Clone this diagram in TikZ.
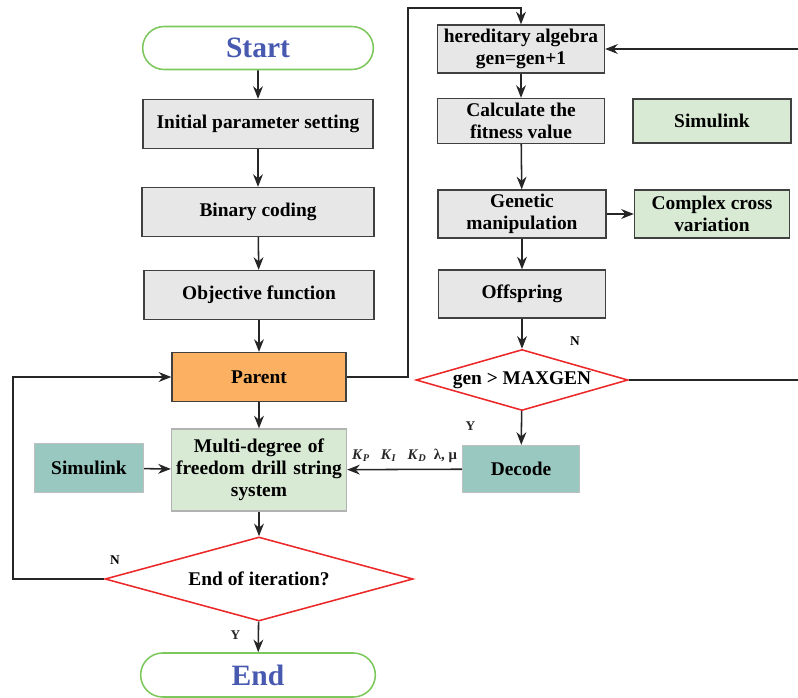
\documentclass[tikz,border=0pt]{standalone}
\usepackage{fontspec}
\setmainfont{Liberation Serif}
\usepackage{xcolor}
\usepackage{tikz}
\usetikzlibrary{arrows.meta,shapes,positioning,calc}

\definecolor{boxgray}{RGB}{231,231,231}
\definecolor{parentorange}{RGB}{251,176,98}
\definecolor{sysgreen}{RGB}{216,233,212}
\definecolor{tealbox}{RGB}{152,200,191}
\definecolor{termgreen}{RGB}{124,200,92}
\definecolor{termblue}{RGB}{72,90,176}
\definecolor{diared}{RGB}{236,40,40}

\begin{document}
\begin{tikzpicture}[x=0.025cm,y=-0.025cm,
  base/.style={draw=black!75,line width=0.9pt,font=\bfseries\fontsize{13.8}{15.5}\selectfont,align=center,inner sep=1pt},
  graybox/.style={base,rectangle,fill=boxgray},
  terminal/.style={rounded rectangle,draw=termgreen,line width=1.1pt,text=termblue,font=\bfseries\fontsize{21}{24}\selectfont},
  decision/.style={diamond,draw=diared,line width=1.1pt,fill=white,inner sep=0pt,font=\bfseries\fontsize{13.8}{15.5}\selectfont},
  arr/.style={-{Stealth[length=9pt,width=7pt]},line width=1.1pt,black!85},
  yn/.style={font=\bfseries\fontsize{9.5}{10}\selectfont}]
\useasboundingbox (0,0) rectangle (798,698);

% Left column
\node[terminal,minimum width=6cm,minimum height=1.075cm] (start) at (258,48) {Start};
\node[graybox,minimum width=5.75cm,minimum height=1.225cm] (init) at (258,124) {Initial parameter setting};
\node[graybox,minimum width=5.8cm,minimum height=1.225cm] (binary) at (258,212) {Binary coding};
\node[graybox,minimum width=5.75cm,minimum height=1.225cm] (objective) at (259,295) {Objective function};
\node[base,fill=parentorange,minimum width=4.35cm,minimum height=1.225cm] (parent) at (259,377) {Parent};
\node[base,draw=black!30,fill=sysgreen,minimum width=4.375cm,minimum height=2.05cm,text width=4.3cm] (drill) at (259,470) {Multi-degree of\\ freedom drill string\\ system};
\node[base,draw=black!25,fill=tealbox,minimum width=2.725cm,minimum height=1.225cm] (simleft) at (89,468) {Simulink};
\node[decision,aspect=3.67,minimum width=7.7cm,minimum height=2.1cm] (enditer) at (259,579) {End of iteration?};
\node[terminal,minimum width=6.1cm,minimum height=1.1cm] (finish) at (258,675) {End};

% Right column
\node[graybox,minimum width=4.175cm,minimum height=1.2cm] (hered) at (521,49) {hereditary algebra\\ gen=gen+1};
\node[graybox,minimum width=4.175cm,minimum height=1.125cm] (fitness) at (521,121) {Calculate the\\ fitness value};
\node[base,fill=sysgreen,minimum width=3.95cm,minimum height=1.1cm] (simright) at (712,121) {Simulink};
\node[graybox,minimum width=4.2cm,minimum height=1.2cm] (genetic) at (522,214) {Genetic\\ manipulation};
\node[base,fill=sysgreen,minimum width=3.875cm,minimum height=1.2cm] (cross) at (712,214) {Complex cross\\ variation};
\node[graybox,minimum width=4.175cm,minimum height=1.2cm] (offspring) at (522,294) {Offspring};
\node[decision,aspect=3.48,minimum width=5.3cm,minimum height=1.525cm] (maxgen) at (522,380) {gen > MAXGEN};
\node[base,draw=black!25,fill=tealbox,minimum width=2.925cm,minimum height=1.175cm] (decode) at (521,469) {Decode};

% Loop corners
\coordinate (loopleft) at (13,579);
\coordinate (looptop) at (408,8);
\coordinate (loopright) at (800,380);

% Main flow
\draw[arr] (start) -- (init);
\draw[arr] (init) -- (binary);
\draw[arr] (binary) -- (objective);
\draw[arr] (objective) -- (parent);
\draw[arr] (parent) -- (drill);
\draw[arr] (drill) -- (enditer);
\draw[arr] (enditer) -- node[yn,left=9pt,pos=0.45] {Y} (finish);
\draw[arr] (simleft) -- (drill);
\draw[arr] (enditer.west) -- (loopleft) |- (parent.west);
\draw[arr] (parent.east) -| (looptop) -| (hered.north);

% Genetic loop
\draw[arr] (hered) -- (fitness);
\draw[arr] (fitness) -- (genetic);
\draw[arr] (genetic) -- (offspring);
\draw[arr] (genetic) -- (cross);
\draw[arr] (offspring) -- (maxgen);
\draw[arr] (maxgen) -- node[yn,left=29pt,pos=0.45] {Y} (decode);
\draw[arr] (maxgen.east) -- (loopright) |- (hered.east);
\draw[arr] (decode) -- node[above=1pt,font=\bfseries\fontsize{10.5}{12}\selectfont] {\textit{K}\textsubscript{\textit{P}}\ \ \ \textit{K}\textsubscript{\textit{I}}\ \ \ \textit{K}\textsubscript{\textit{D}}\ \ λ, μ} (drill);

% Branch labels
\node[yn] (nright) at (575,341) {N};
\node[yn] (nleft) at (115,560) {N};
\end{tikzpicture}
\end{document}
